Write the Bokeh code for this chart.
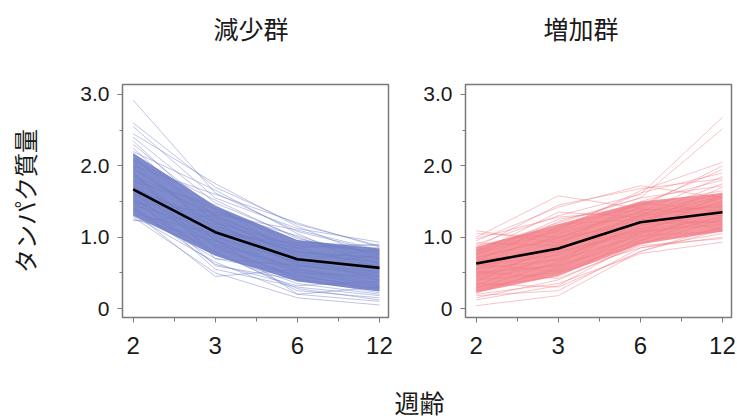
from bokeh.plotting import figure
from bokeh.layouts import row, column
from bokeh.models import Range1d, FixedTicker, Label
from bokeh.embed import file_html
from bokeh.resources import INLINE

# ---------------- data ----------------
weeks = [2, 3, 6, 12]
y_ticks = [0, 1, 2, 3]
y_tick_labels = ["0", "1.0", "2.0", "3.0"]
y_minor = [0.5, 1.5, 2.5]

panel_titles = ["減少群", "増加群"]
y_label = "タンパク質量"
x_label = "週齢"

# 減少群 (decrease group): individual trajectories (values at weeks 2, 3, 6, 12)
dec_lines = [
    [2.92, 1.62, 1.08, 0.80], [2.60, 1.70, 1.18, 0.88], [2.55, 1.55, 1.12, 0.93],
    [2.45, 1.75, 1.15, 0.70], [2.40, 1.48, 1.00, 0.62], [2.30, 1.38, 0.95, 0.78],
    [2.25, 1.20, 0.88, 0.85], [2.20, 1.66, 1.05, 0.55], [2.10, 1.30, 0.80, 0.70],
    [2.05, 1.10, 0.62, 0.45], [1.95, 1.25, 0.75, 0.66], [1.90, 0.95, 0.55, 0.35],
    [1.85, 1.40, 0.90, 0.80], [1.80, 1.05, 0.70, 0.60], [1.75, 0.85, 0.45, 0.30],
    [1.70, 1.15, 0.78, 0.72], [1.65, 0.60, 0.40, 0.28], [1.60, 1.00, 0.65, 0.50],
    [1.55, 0.90, 0.58, 0.75], [1.50, 0.75, 0.35, 0.20], [1.45, 1.12, 0.80, 0.64],
    [1.40, 0.80, 0.25, 0.15], [1.35, 0.45, 0.55, 0.40], [1.30, 0.65, 0.20, 0.10],
    [1.25, 0.95, 0.50, 0.45], [1.23, 1.30, 0.85, 0.58], [1.28, 0.50, 0.15, 0.05],
    [1.38, 0.70, 0.48, 0.25], [1.48, 1.35, 1.02, 0.68], [1.58, 0.55, 0.30, 0.18],
    [1.68, 1.22, 0.60, 0.52], [1.78, 1.45, 0.72, 0.40], [1.88, 0.88, 0.42, 0.22],
    [1.98, 1.18, 0.66, 0.84], [2.08, 1.52, 0.98, 0.76], [2.15, 1.02, 0.52, 0.32],
    [2.35, 1.28, 0.70, 0.58], [1.62, 1.08, 0.85, 0.90], [1.42, 0.62, 0.32, 0.38],
    [1.72, 0.78, 0.28, 0.12], [1.52, 0.98, 0.20, 0.30], [1.82, 1.32, 1.10, 0.82],
    [2.00, 1.60, 1.20, 0.86], [1.33, 1.05, 0.92, 0.88], [1.92, 0.70, 0.60, 0.48],
]
dec_core_lo = [1.30, 0.74, 0.38, 0.24]
dec_core_hi = [2.18, 1.44, 0.96, 0.84]
dec_mean = [1.67, 1.07, 0.69, 0.57]

# 増加群 (increase group)
inc_lines = [
    [0.04, 0.18, 0.80, 1.10], [1.09, 0.92, 1.30, 1.45], [1.00, 1.58, 1.40, 1.30],
    [0.95, 1.42, 1.72, 1.55], [0.90, 1.30, 1.60, 2.68], [0.85, 1.20, 1.55, 2.52],
    [0.80, 1.10, 1.65, 2.05], [0.75, 1.25, 1.45, 1.95], [0.70, 1.00, 1.35, 1.85],
    [0.65, 0.85, 1.20, 1.70], [0.60, 0.75, 1.10, 1.40], [0.55, 0.95, 1.25, 1.20],
    [0.50, 0.60, 0.95, 1.30], [0.45, 0.70, 1.15, 1.50], [0.40, 0.50, 0.85, 1.05],
    [0.35, 0.30, 0.80, 1.15], [0.30, 0.45, 1.00, 1.35], [0.25, 0.55, 1.05, 1.60],
    [0.20, 0.35, 0.77, 0.93], [0.15, 0.40, 0.90, 1.25], [0.18, 0.25, 0.85, 1.00],
    [0.28, 0.65, 1.30, 1.75], [0.38, 0.90, 1.50, 1.80], [0.48, 1.05, 1.35, 1.10],
    [0.58, 1.15, 1.45, 1.65], [0.68, 0.80, 1.05, 1.25], [0.78, 1.35, 1.28, 1.58],
    [0.88, 1.12, 1.62, 1.90], [0.98, 1.28, 1.38, 1.42], [1.05, 1.00, 1.18, 1.22],
    [0.62, 0.52, 0.92, 1.12], [0.52, 0.42, 0.88, 0.98], [0.42, 0.62, 1.22, 1.55],
    [0.32, 0.78, 1.12, 1.38], [0.22, 0.58, 1.08, 1.28], [0.72, 0.98, 1.42, 2.00],
    [0.82, 1.18, 1.25, 1.48], [0.92, 0.88, 1.08, 1.18], [0.12, 0.32, 0.95, 1.45],
    [0.66, 1.22, 1.55, 1.72], [0.46, 0.82, 1.32, 1.62], [0.56, 0.68, 1.02, 1.08],
    [0.76, 1.08, 1.48, 1.36], [0.86, 1.45, 1.68, 1.82],
]
inc_core_lo = [0.22, 0.46, 0.90, 1.08]
inc_core_hi = [0.86, 1.18, 1.50, 1.62]
inc_mean = [0.63, 0.84, 1.21, 1.35]

# ---------------- styling ----------------
CJK = "Noto Sans CJK JP"
LAT = "Liberation Sans"
TXT = "#1a1a1a"
GRAY = "#7a7a7a"
xpos = list(range(len(weeks)))


def make_panel(lines, lo, hi, mean, line_color, core_color, width,
               left_border, right_border, show_ylabel):
    p = figure(width=width, height=327,
               x_range=Range1d(-0.13, len(weeks) - 1 + 0.11),
               y_range=Range1d(-0.126, 3.14),
               output_backend="svg", toolbar_location=None,
               min_border_left=left_border, min_border_right=right_border,
               min_border_top=39, min_border_bottom=55)
    p.xgrid.visible = False
    p.ygrid.visible = False
    p.outline_line_color = GRAY
    p.outline_line_width = 1.5
    p.background_fill_color = "white"
    p.border_fill_color = "white"

    p.varea(x=xpos, y1=lo, y2=hi, fill_color=core_color, fill_alpha=0.85)
    p.multi_line(xs=[xpos] * len(lines), ys=lines, line_color=line_color,
                 line_alpha=0.45, line_width=1)
    p.line(xpos, mean, line_color="black", line_width=2.6)

    # x axis
    xa = p.xaxis[0]
    xa.ticker = FixedTicker(ticks=xpos, minor_ticks=[i + 0.5 for i in xpos[:-1]])
    xa.major_label_overrides = {i: str(w) for i, w in enumerate(weeks)}
    xa.major_label_text_font = LAT
    xa.major_label_text_font_size = "24px"
    xa.major_label_text_color = TXT
    xa.major_label_standoff = 14
    xa.axis_line_color = GRAY
    xa.major_tick_line_color = GRAY
    xa.minor_tick_line_color = GRAY
    xa.major_tick_out = 5
    xa.major_tick_in = 0
    xa.minor_tick_out = 4
    xa.minor_tick_in = 0

    # y axis
    ya = p.yaxis[0]
    ya.ticker = FixedTicker(ticks=y_ticks, minor_ticks=y_minor)
    ya.major_label_overrides = {t: s for t, s in zip(y_ticks, y_tick_labels)}
    ya.major_label_text_font = LAT
    ya.major_label_text_font_size = "21px"
    ya.major_label_text_color = TXT
    ya.major_label_standoff = 8
    ya.axis_line_color = GRAY
    ya.major_tick_line_color = GRAY
    ya.minor_tick_line_color = GRAY
    ya.major_tick_out = 5
    ya.major_tick_in = 0
    ya.minor_tick_out = 3
    ya.minor_tick_in = 0
    if show_ylabel:
        ya.axis_label = y_label
        ya.axis_label_text_font = CJK
        ya.axis_label_text_font_size = "24px"
        ya.axis_label_text_font_style = "normal"
        ya.axis_label_text_color = TXT
        ya.axis_label_standoff = 35
    return p


def text_strip(height, items):
    s = figure(width=737, height=height, output_backend="svg", toolbar_location=None,
               x_axis_type=None, y_axis_type=None, min_border=0,
               x_range=Range1d(0, 1), y_range=Range1d(0, 1))
    s.outline_line_color = None
    s.xgrid.visible = False
    s.ygrid.visible = False
    for txt, sx, sy, align in items:
        s.add_layout(Label(x=sx, y=sy, x_units="screen", y_units="screen", text=txt,
                           text_font=CJK, text_font_size="25px", text_color=TXT,
                           text_align=align, text_baseline="middle"))
    return s


f0 = text_strip(45, [(panel_titles[0], 213, 18, "left"),
                     (panel_titles[1], 543, 18, "left")])
f1 = make_panel(dec_lines, dec_core_lo, dec_core_hi, dec_mean,
                "#6f7ec8", "#6a78c3", 405, 122, 17, True)
f2 = make_panel(inc_lines, inc_core_lo, inc_core_hi, inc_mean,
                "#f27a85", "#f2838b", 332, 60, 6, False)
f3 = text_strip(47, [(x_label, 419, 18, "center")])

layout = column(f0, row(f1, f2), f3)
open("out.html", "w").write(file_html(layout, INLINE))
